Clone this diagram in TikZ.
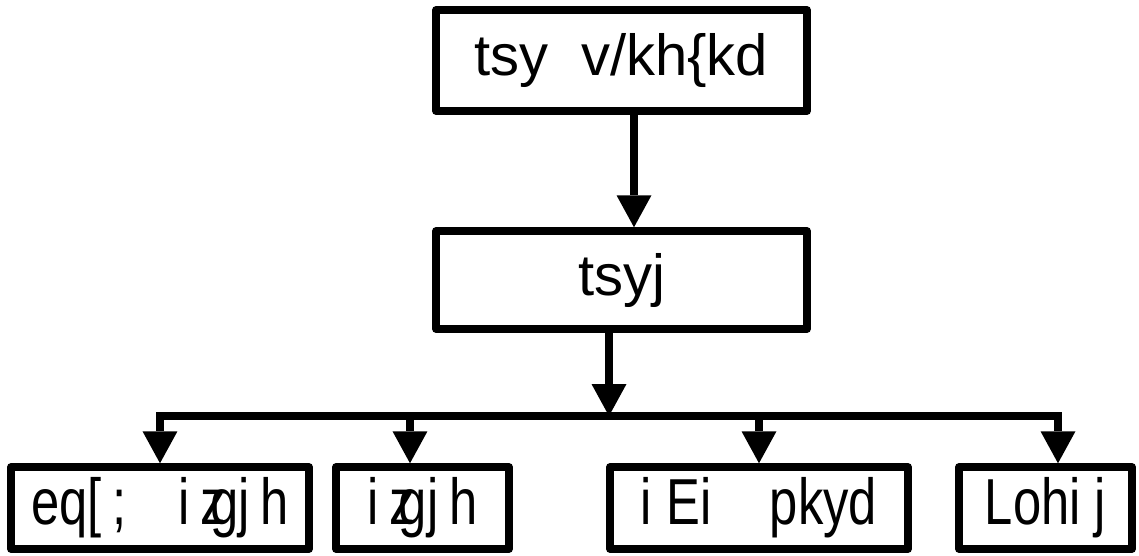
\documentclass[tikz,border=0pt]{standalone}
\usepackage{fontspec}
\newfontfamily\boxfont{Liberation Sans}
\newfontfamily\narrowfont[FakeStretch=0.78]{Liberation Sans}
\usetikzlibrary{arrows.meta, positioning}

\begin{document}
\begin{tikzpicture}[
  head/.style={rectangle, minimum width=7.42cm, minimum height=2.02cm, inner sep=0pt, text centered, draw=black, line width=0.15cm, line join=round, font=\boxfont\fontsize{33}{40}\selectfont},
  wide/.style={rectangle, minimum width=5.96cm, minimum height=1.64cm, inner sep=0pt, text centered, draw=black, line width=0.15cm, line join=round, font=\narrowfont\fontsize{37}{44}\selectfont},
  slim/.style={wide, minimum width=3.46cm},
  arrow/.style={line width=0.15cm, ->, >={Triangle[length=0.64cm, width=0.7cm, line width=0pt]}}]

  \useasboundingbox (-12.43,1.21) rectangle (10.35,-9.89);

  % Nodes
  \node (jal) [head] {tsy\ \ v/kh\{kd};
  \node (jalr) [head, minimum height=1.96cm, below of=jal, yshift=-3.39cm] {tsyj};
  \node (pump) [wide, below of=jalr, xshift=2.75cm, yshift=-3.56cm] {i\ Ei\hspace{0.9em}pkyd};
  \node (prahari) [slim, left of=pump, xshift=-5.73cm] {i\,z\kern-0.25em gj\,h};
  \node (mukhya) [wide, left of=prahari, xshift=-4.25cm] {eq[\,;\hspace{0.8em}i\,z\kern-0.25em gj\,h};
  \node (sweeper) [slim, right of=pump, xshift=4.73cm] {Lohi\ j};

  \coordinate (bus) at (-0.25,-7.11);
  \coordinate (drop) at ([xshift=-0.25cm]prahari.north);

  % Arrows
  \draw [arrow] ([xshift=0.25cm]jal.south) -- ([xshift=0.25cm]jalr.north);
  \draw [arrow] ([xshift=-0.25cm]jalr.south) -- (bus);
  \draw [arrow] (bus) -| (mukhya.north);
  \draw [arrow] (drop |- bus) -- (drop);
  \draw [arrow] (pump.north |- bus) -- (pump.north);
  \draw [arrow] (bus) -| ([xshift=0.25cm]sweeper.north);

\end{tikzpicture}
\end{document}
